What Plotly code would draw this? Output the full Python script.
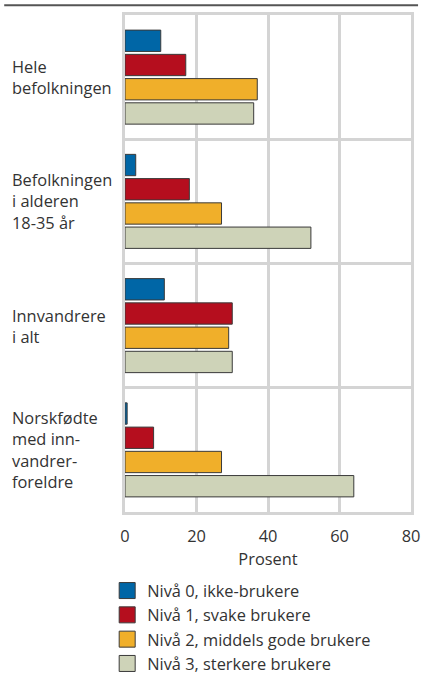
import plotly.graph_objects as go

categories = ["Hele<br>befolkningen", "Befolkningen<br>i alderen<br>18-35 år",
              "Innvandrere<br>i alt", "Norskfødte<br>med inn-<br>vandrer-<br>foreldre"]
cat_keys = ["Hele befolkningen", "Befolkningen i alderen 18-35 år",
            "Innvandrere i alt", "Norskfødte med innvandrerforeldre"]
series_names = ["Nivå 0, ikke-brukere", "Nivå 1, svake brukere",
                "Nivå 2, middels gode brukere", "Nivå 3, sterkere brukere"]
niva0 = [10, 3, 11, 0.6]
niva1 = [17, 18, 30, 8]
niva2 = [37, 27, 29, 27]
niva3 = [36, 52, 30, 64]
x_ticks = [0, 20, 40, 60, 80]

colors = ["#0066A6", "#B50E1E", "#F0AF2A", "#CED3B8"]
FONT = "Open Sans"
GRID = "#D4D4D4"
OUTLINE = "#3a3a3a"

K = 1.024  # compensation factor for page scaling
W, H = round(422 * K), round(677 * K)
L, R, T, B = 122 * K, 11 * K, 15 * K, 158 * K
pw, ph = W - L - R, H - T - B
FS = 16 * K

fig = go.Figure()
for i, (name, vals) in enumerate(zip(series_names, [niva0, niva1, niva2, niva3])):
    fig.add_trace(go.Bar(
        y=cat_keys, x=vals, name=name, orientation="h",
        marker=dict(color=colors[i], line=dict(color=OUTLINE, width=1)),
        showlegend=False,
    ))
for i, name in enumerate(series_names):
    fig.add_trace(go.Scatter(
        x=[None], y=[None], mode="markers", name=name, legendgroup=f"g{i}",
        marker=dict(symbol="square", size=19, color=colors[i],
                    line=dict(color=OUTLINE, width=1)),
        hoverinfo="skip",
    ))

annotations = []
for key, lab in zip(cat_keys, categories):
    annotations.append(dict(
        x=(6 * K - L) / pw, xref="paper", y=key, yref="y",
        text=lab, showarrow=False, xanchor="left", yanchor="middle", align="left",
        font=dict(family=FONT, size=FS, color="#333333"),
    ))

ytop = (ph + T - 5 * K) / ph
shapes = [dict(type="line", xref="paper", yref="paper",
               x0=-L / pw, x1=(418 * K - L) / pw, y0=ytop, y1=ytop,
               line=dict(color="#555555", width=2))]

fig.update_layout(
    width=W, height=H, autosize=False,
    margin=dict(l=L, r=R, t=T, b=B, pad=0),
    paper_bgcolor="white", plot_bgcolor="white",
    barmode="group", bargap=0.22, bargroupgap=0.12,
    font=dict(family=FONT, size=FS, color="#333333"),
    xaxis=dict(range=[0, 80], tickvals=x_ticks, ticktext=[str(v) for v in x_ticks],
               showgrid=True, gridcolor=GRID, gridwidth=2.5,
               showline=True, linecolor=GRID, linewidth=2.5, mirror=True,
               zeroline=False, ticks="", tickfont=dict(size=FS), ticklabelstandoff=8,
               title=dict(text="Prosent", font=dict(size=FS), standoff=6)),
    yaxis=dict(categoryorder="array", categoryarray=cat_keys, autorange="reversed",
               tickson="boundaries", showgrid=True, gridcolor=GRID, gridwidth=2.5,
               showline=True, linecolor=GRID, linewidth=2.5, mirror=True,
               showticklabels=False, ticks=""),
    showlegend=True,
    legend=dict(x=(104 * K - L) / pw, xanchor="left", y=-(581 * K - T - ph) / ph, yanchor="top",
                orientation="v", traceorder="normal", tracegroupgap=6,
                itemsizing="trace",
                bgcolor="rgba(0,0,0,0)", font=dict(size=FS, color="#333333"),
                itemwidth=30),
    annotations=annotations, shapes=shapes,
)

fig.write_html(
    "out.html",
    config={"responsive": False, "displayModeBar": False},
    post_script=(
        "document.body.style.margin='0';"
        "document.body.style.overflow='hidden';"
    ),
)
